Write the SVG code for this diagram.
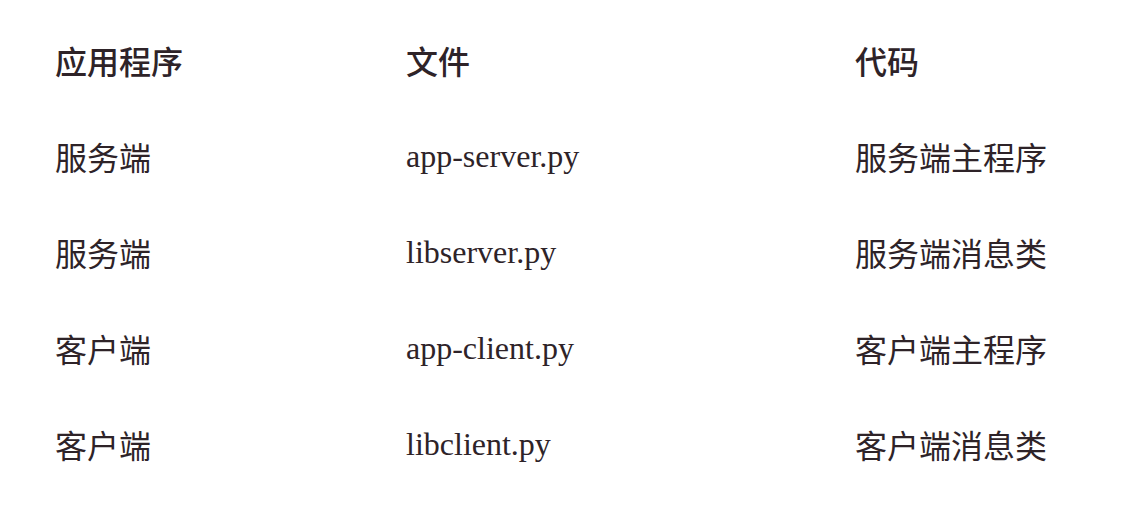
<svg xmlns="http://www.w3.org/2000/svg" width="1138" height="524" viewBox="0 0 1138 524">
<style>
text{fill:#2e2328;font-size:32px;}
.zh{font-family:"Noto Sans CJK SC","Noto Sans",sans-serif;}
.en{font-family:"Liberation Serif","Noto Sans CJK SC",serif;font-size:32px;}
.h{font-weight:500;}
</style>
<rect width="1138" height="524" fill="#ffffff"/>
<g id="header">
<text class="zh h" x="55" y="74">应用程序</text>
<text class="zh h" x="406" y="74">文件</text>
<text class="zh h" x="855" y="74">代码</text>
</g>
<g id="row1">
<text class="zh" x="55" y="170">服务端</text>
<text class="en" x="406" y="167">app-server.py</text>
<text class="zh" x="855" y="170">服务端主程序</text>
</g>
<g id="row2">
<text class="zh" x="55" y="266">服务端</text>
<text class="en" x="406" y="263">libserver.py</text>
<text class="zh" x="855" y="266">服务端消息类</text>
</g>
<g id="row3">
<text class="zh" x="55" y="362">客户端</text>
<text class="en" x="406" y="359">app-client.py</text>
<text class="zh" x="855" y="362">客户端主程序</text>
</g>
<g id="row4">
<text class="zh" x="55" y="458">客户端</text>
<text class="en" x="406" y="455">libclient.py</text>
<text class="zh" x="855" y="458">客户端消息类</text>
</g>
</svg>
